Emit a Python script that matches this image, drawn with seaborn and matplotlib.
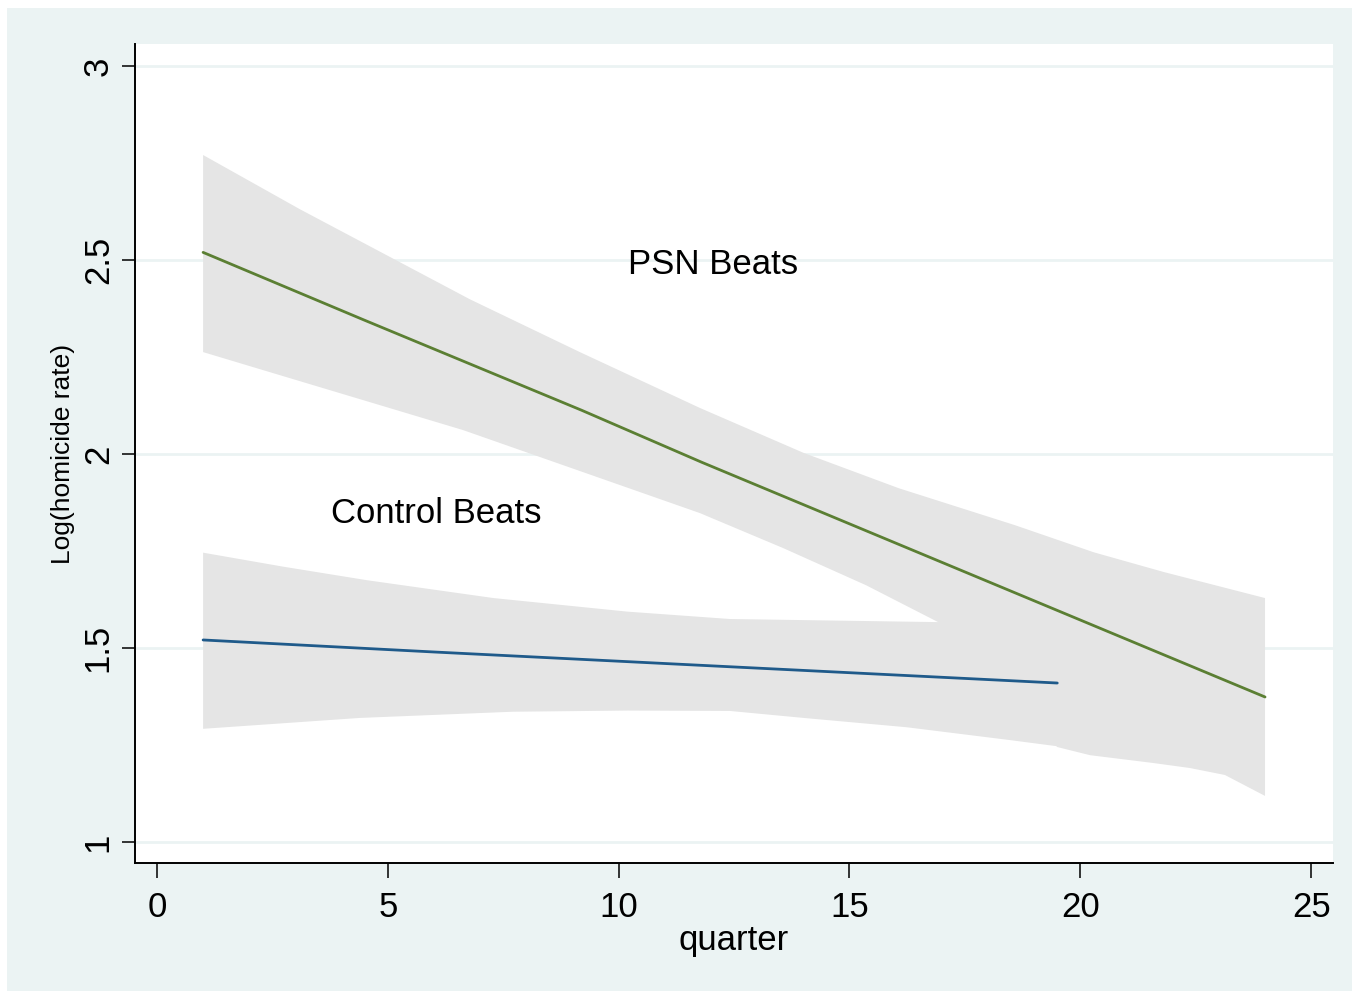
import numpy as np
import pandas as pd
import matplotlib
matplotlib.use("Agg")
import matplotlib.pyplot as plt
import seaborn as sns
from matplotlib.patches import Rectangle

# ---- data ----
psn_x = [1, 4.5, 9.2, 11.8, 24]
psn_y = [2.52, 2.345, 2.113, 1.979, 1.374]
ctl_x = [1, 6, 12.4, 19.5]
ctl_y = [1.521, 1.490, 1.452, 1.410]

psn_upper_x = [1, 3.1, 6.78, 9.16, 11.76, 14.01, 16.07, 18.58, 20.29, 21.81, 24]
psn_upper_y = [2.771, 2.631, 2.399, 2.263, 2.119, 2.003, 1.912, 1.817, 1.747, 1.696, 1.629]
psn_lower_x = [1, 2.51, 6.63, 11.76, 13.56, 15.36, 16.92, 19.5, 20.21, 21.57, 22.37, 23.13, 24]
psn_lower_y = [2.263, 2.209, 2.062, 1.848, 1.758, 1.662, 1.567, 1.245, 1.224, 1.204, 1.191, 1.173, 1.119]

ctl_upper_x = [1, 2.73, 4.55, 7.29, 10.19, 12.41, 16.92, 19.5]
ctl_upper_y = [1.746, 1.710, 1.675, 1.629, 1.594, 1.575, 1.567, 1.57]
ctl_lower_x = [1, 4.39, 7.70, 10.19, 12.41, 14.01, 16.24, 18.47, 19.5]
ctl_lower_y = [1.292, 1.320, 1.336, 1.339, 1.338, 1.320, 1.296, 1.263, 1.247]

x_ticks = [0, 5, 10, 15, 20, 25]
y_ticks = [1, 1.5, 2, 2.5, 3]
y_tick_labels = ["1", "1.5", "2", "2.5", "3"]

groups = ["PSN Beats", "Control Beats"]
line_colors = {"PSN Beats": "#5B7F33", "Control Beats": "#1F5A8A"}
BAND = "#E5E5E5"
BG = "#EBF3F3"

df = pd.DataFrame({
    "quarter": psn_x + ctl_x,
    "value": psn_y + ctl_y,
    "group": [groups[0]] * len(psn_x) + [groups[1]] * len(ctl_x),
})

sns.set_theme(style="white")
plt.rcParams["font.family"] = ["Liberation Sans", "DejaVu Sans"]
plt.rcParams["text.color"] = "black"

fig = plt.figure(figsize=(13.59, 9.92), dpi=100)
fig.patch.set_facecolor("white")
fig.patches.append(Rectangle((0.00515, 0.001), 0.9897, 0.9909, transform=fig.transFigure,
                             facecolor=BG, edgecolor="none", zorder=-10))
ax = fig.add_axes([0.0993, 0.130, 0.8815, 0.8256])
ax.set_facecolor("white")

# confidence bands
ax.fill(psn_upper_x + psn_lower_x[::-1], psn_upper_y + psn_lower_y[::-1],
        color=BAND, linewidth=0, zorder=1)
ax.fill(ctl_upper_x + ctl_lower_x[::-1], ctl_upper_y + ctl_lower_y[::-1],
        color=BAND, linewidth=0, zorder=1)

sns.lineplot(data=df, x="quarter", y="value", hue="group", palette=line_colors,
             estimator=None, legend=False, linewidth=2.0, ax=ax, zorder=3)

ax.text(10.2, 2.49, "PSN Beats", fontsize=25, ha="left", va="center", color="black", zorder=4)
ax.text(3.77, 1.848, "Control Beats", fontsize=25, ha="left", va="center", color="black", zorder=4)

ax.set_xlim(-0.476, 25.47)
ax.set_ylim(0.946, 3.057)
ax.set_xticks(x_ticks)
ax.set_yticks(y_ticks)
ax.set_yticklabels(y_tick_labels)
ax.yaxis.grid(True, color=BG, linewidth=2.0, zorder=0)
ax.xaxis.grid(False)
ax.set_axisbelow(True)

for s in ["top", "right"]:
    ax.spines[s].set_visible(False)
for s in ["left", "bottom"]:
    ax.spines[s].set_visible(True)
    ax.spines[s].set_color("black")
    ax.spines[s].set_linewidth(1.4)

ax.tick_params(axis="x", bottom=True, direction="out", length=10.5, width=1.1,
               color="black", labelsize=25, pad=9.5, labelcolor="black")
ax.tick_params(axis="y", left=True, direction="out", length=9.5, width=1.1,
               color="black", labelsize=25, pad=5, labelcolor="black")
plt.setp(ax.get_yticklabels(), rotation=90, va="center")

ax.set_xlabel("quarter", fontsize=25, color="black", va="baseline")
ax.xaxis.set_label_coords(0.5, -0.106)
ax.set_ylabel("Log(homicide rate)", fontsize=19, color="black", va="center")
ax.yaxis.set_label_coords(-0.060, 0.5)

fig.savefig("out.png", dpi=100, facecolor=fig.get_facecolor())
